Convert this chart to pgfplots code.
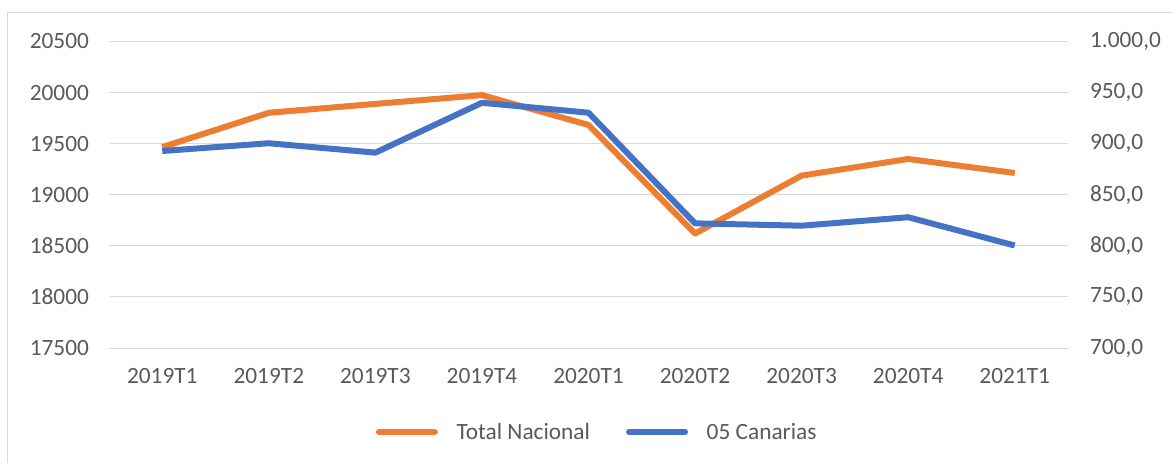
\documentclass[border=0pt]{standalone}
\usepackage{pgfplots}
\pgfplotsset{compat=1.18}
\usepackage{fontspec}
\setmainfont{Carlito}
\definecolor{cor}{HTML}{ED7D31}
\definecolor{cbl}{HTML}{4472C4}
\definecolor{grd}{HTML}{D9D9D9}
\definecolor{txt}{HTML}{595959}
\begin{document}
\begin{tikzpicture}
\pgfplotsset{
  base/.style={
    scale only axis, width=719.25pt, height=229.9pt,
    xmin=-0.5, xmax=8.5, xtick={0,...,8},
    axis line style={draw=none}, major tick length=0pt,
    tick label style={font=\fontsize{17.5}{21}\selectfont, text=txt},
    scaled ticks=false,
    /pgf/number format/assume math mode=true,
  }
}
\begin{axis}[base,
  ymin=17500, ymax=20500, ytick={17500,18000,...,20500},
  ymajorgrids, grid style={grd, line width=0.75pt},
  xticklabels={2019T1,2019T2,2019T3,2019T4,2020T1,2020T2,2020T3,2020T4,2021T1},
  xticklabel style={yshift=-12pt},
  yticklabel style={xshift=-11.5pt, /pgf/number format/.cd, fixed, precision=0, 1000 sep={}},
  legend style={at={(0.5094,-0.274)}, anchor=center, draw=none,
    font=\fontsize{17.5}{21}\selectfont, text=txt,
    /tikz/every even column/.append style={column sep=25pt}},
  legend columns=2,
  legend image code/.code={\draw[#1, line cap=round] (0pt,0pt) -- (42pt,0pt);},
  legend cell align=left,
]
\addplot[cor, line width=4.5pt, line join=round] coordinates {
  (0,19466) (1,19802) (2,19889) (3,19975) (4,19683) (5,18620) (6,19187) (7,19350) (8,19213)};
\addlegendentry{\hspace{12pt}Total Nacional}
\addlegendimage{cbl, line width=4.5pt}
\addlegendentry{\hspace{12pt}05 Canarias}
\end{axis}
\begin{axis}[base,
  ymin=700, ymax=1000, ytick={700,750,...,1000},
  xticklabels={}, axis y line*=right, axis x line=none,
  yticklabel style={anchor=west, xshift=13pt,
    /pgf/number format/.cd, fixed, fixed zerofill, precision=1, use comma, 1000 sep={.}},
]
\addplot[cbl, line width=4.5pt, line join=round] coordinates {
  (0,892.8) (1,900.4) (2,891.2) (3,940.0) (4,930.3) (5,822.0) (6,819.7) (7,828.0) (8,800.3)};
\end{axis}
\draw[grd, line width=0.75pt] (-75.75pt,-86pt) -- (-75.75pt,252pt) -- (800pt,252pt);
\pgfresetboundingbox
\path[use as bounding box] (-81.75pt,-85.5pt) rectangle (798pt,261pt);
\end{tikzpicture}
\end{document}
